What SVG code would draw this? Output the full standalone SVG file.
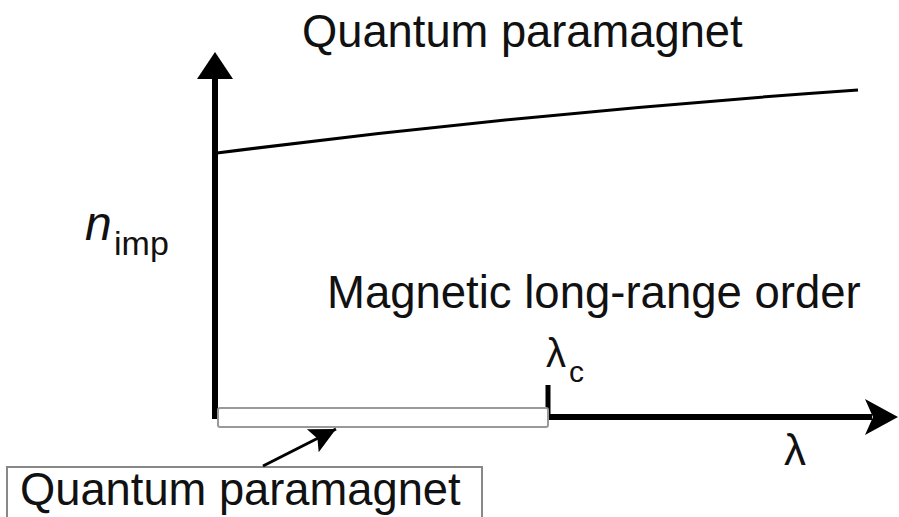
<svg xmlns="http://www.w3.org/2000/svg" width="899" height="517" viewBox="0 0 899 517">
<style>
.t{font-family:"Liberation Sans",Arial,sans-serif;fill:#111;}
.axis{stroke:#000;stroke-width:6;fill:none;}
.ah{fill:#000;}
</style>
<defs>
<marker id="arrS" viewBox="0 0 10 10" refX="10" refY="5" markerWidth="36" markerHeight="26" markerUnits="userSpaceOnUse" orient="auto">
<path d="M0,0 L10,5 L0,10 L2,5 z" fill="#000"/>
</marker>
</defs>
<rect width="899" height="517" fill="#fff"/>
<g id="axes">
<line class="axis" x1="215" y1="419" x2="215" y2="74"/>
<polygon class="ah" points="215,52 197,79 233,79"/>
<line class="axis" x1="545" y1="417" x2="872" y2="417"/>
<polygon class="ah" points="898,417 865,399 873,417 865,435"/>
<line class="axis" x1="548" y1="385" x2="548" y2="420" style="stroke-width:5"/>
</g>
<g id="boundary">
<path d="M217,153 Q540,112 858,90" fill="none" stroke="#000" stroke-width="3"/>
</g>
<g id="qp-range">
<rect x="218" y="408" width="330" height="19" rx="2" fill="#fff" stroke="#999" stroke-width="2"/>
</g>
<g id="label-qp-top">
<text class="t" x="302" y="47" font-size="45.3">Quantum paramagnet</text>
</g>
<g id="label-mlro">
<text class="t" x="327" y="308" font-size="45.5">Magnetic long-range order</text>
</g>
<g id="label-nimp">
<text class="t" x="85" y="240" font-size="48" font-style="italic">n</text>
<text class="t" x="114" y="255" font-size="34">imp</text>
</g>
<g id="label-lc">
<text class="t" x="546" y="367" font-size="40">λ</text>
<text class="t" x="569" y="382" font-size="30">c</text>
</g>
<g id="label-lambda">
<text class="t" x="784" y="465" font-size="44">λ</text>
</g>
<g id="label-qp-box">
<rect x="7" y="467" width="475" height="60" fill="#fff" stroke="#888" stroke-width="2"/>
<text class="t" x="20" y="505" font-size="45.3">Quantum paramagnet</text>
</g>
<g id="connectors">
<line x1="263" y1="466" x2="336" y2="429" stroke="#000" stroke-width="3" marker-end="url(#arrS)"/>
</g>
</svg>
